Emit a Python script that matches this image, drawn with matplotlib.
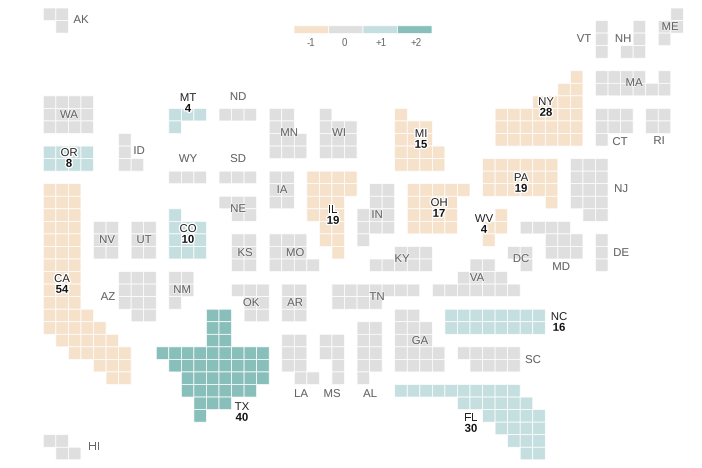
import matplotlib
matplotlib.use('Agg')
import matplotlib.pyplot as plt
import matplotlib.patheffects as pe

plt.rcParams['font.family'] = ['Liberation Sans', 'DejaVu Sans']

W, H = 702, 468
# reference grid: pixel position of tile (0, 0) and tile pitch
X0, Y0, PITCH = 43.3, 8.0, 12.55

change_colors = {-1: '#f6e2cb', 0: '#dfdfdf', 1: '#c5dfe0', 2: '#88bfba'}

legend_values = [-1, 0, 1, 2]
legend_labels = ['-1', '0', '+1', '+2']

# electoral votes, only for the states that are labelled with a number
votes = {'CA': 54, 'TX': 40, 'FL': 30, 'NY': 28, 'IL': 19, 'PA': 19, 'OH': 17, 'NC': 16,
         'MI': 15, 'CO': 10, 'OR': 8, 'MT': 4, 'WV': 4}

# seat change, states not listed are 0
change = {'CA': -1, 'NY': -1, 'IL': -1, 'PA': -1, 'OH': -1, 'MI': -1, 'WV': -1,
          'FL': 1, 'NC': 1, 'CO': 1, 'OR': 1, 'MT': 1, 'TX': 2}

# tiles: state -> (row, first col, last col)
tiles = {
    'AK': [(0, 0, 1), (1, 1, 1)],
    'HI': [(34, 0, 1), (35, 1, 2)],
    'WA': [(7, 0, 3), (8, 0, 3), (9, 0, 3)],
    'OR': [(11, 0, 3), (12, 0, 3)],
    'ID': [(10, 6, 6), (11, 6, 6), (12, 6, 7)],
    'MT': [(8, 10, 12), (9, 10, 10)],
    'ND': [(8, 14, 16)],
    'MN': [(8, 18, 19), (9, 18, 19), (10, 18, 20), (11, 18, 20)],
    'WI': [(8, 22, 22), (9, 22, 24), (10, 22, 24), (11, 22, 24)],
    'MI': [(8, 28, 28), (9, 28, 30), (10, 28, 30), (11, 28, 31), (12, 28, 31)],
    'WY': [(13, 10, 12)],
    'SD': [(13, 14, 16)],
    'NE': [(15, 14, 16), (16, 15, 16)],
    'IA': [(13, 18, 19), (14, 18, 19), (15, 18, 19)],
    'IL': [(13, 21, 24), (14, 21, 24), (15, 21, 23), (16, 21, 23), (17, 22, 23), (18, 22, 23), (19, 23, 23)],
    'IN': [(14, 26, 27), (15, 26, 27), (16, 25, 27), (17, 25, 27), (18, 25, 25)],
    'OH': [(14, 29, 33), (15, 29, 32), (16, 29, 32), (17, 29, 32)],
    'KS': [(18, 15, 16), (19, 15, 16), (20, 15, 16)],
    'MO': [(18, 18, 20), (19, 18, 20), (20, 18, 21)],
    'KY': [(19, 28, 30), (20, 26, 30)],
    'TN': [(22, 23, 29), (23, 23, 26)],
    'VA': [(20, 34, 35), (21, 33, 36), (22, 31, 37)],
    'OK': [(22, 15, 17), (23, 16, 17), (24, 16, 17)],
    'AR': [(22, 19, 20), (23, 19, 20), (24, 19, 20)],
    'CO': [(16, 10, 10), (17, 10, 12), (18, 10, 12), (19, 10, 12)],
    'NV': [(17, 4, 5), (18, 4, 5), (19, 4, 5)],
    'UT': [(17, 7, 8), (18, 7, 8), (19, 7, 8)],
    'CA': [(r, 0, 2) for r in range(14, 24)] + [(24, 0, 3), (25, 0, 4), (26, 1, 5), (27, 2, 6), (28, 4, 6), (29, 5, 6)],
    'AZ': [(21, 6, 8), (22, 6, 8), (23, 6, 8), (24, 7, 8)],
    'NM': [(21, 10, 11), (22, 10, 11), (23, 10, 10)],
    'TX': [(24, 13, 14), (25, 13, 14), (26, 13, 14), (27, 9, 17), (28, 10, 17), (29, 11, 17), (30, 11, 16),
           (31, 12, 14), (32, 12, 12)],
    'LA': [(26, 19, 20), (27, 19, 20), (28, 19, 20), (29, 20, 21)],
    'MS': [(26, 22, 23), (27, 22, 23), (28, 23, 23), (29, 23, 23)],
    'AL': [(25, 25, 26), (26, 25, 26), (27, 25, 26), (28, 25, 26), (29, 25, 25)],
    'GA': [(24, 28, 29), (25, 28, 30), (26, 28, 30), (27, 28, 31), (28, 28, 31)],
    'NC': [(24, 32, 39), (25, 32, 39)],
    'SC': [(27, 33, 37), (28, 34, 37)],
    'FL': [(30, 28, 37), (31, 33, 38), (32, 35, 39), (33, 36, 39), (34, 37, 39), (35, 38, 39)],
    'ME': [(0, 50, 50), (1, 49, 50), (2, 49, 49)],
    'VT': [(1, 44, 44), (2, 44, 44), (3, 44, 44)],
    'NH': [(1, 47, 47), (2, 47, 47), (3, 46, 47)],
    'MA': [(5, 44, 47), (5, 49, 49), (6, 44, 49)],
    'CT': [(8, 44, 46), (9, 44, 46), (10, 44, 44)],
    'RI': [(8, 48, 49), (9, 48, 49)],
    'NY': [(5, 42, 42), (6, 41, 42), (7, 39, 42), (8, 36, 42), (9, 36, 42), (10, 36, 42)],
    'PA': [(12, 35, 40), (13, 35, 40), (14, 35, 40), (15, 40, 40)],
    'NJ': [(12, 42, 44), (13, 42, 44), (14, 42, 44), (15, 42, 44), (16, 43, 44)],
    'WV': [(16, 36, 36), (17, 35, 36), (18, 35, 35)],
    'MD': [(17, 38, 41), (18, 40, 42), (19, 40, 42)],
    'DC': [(19, 37, 38), (20, 38, 38)],
    'DE': [(18, 44, 44), (19, 44, 44), (20, 44, 44)],
}

# label anchor in picture pixels
label_pos = {
    'AK': (81, 20), 'WA': (69, 115), 'OR': (69, 153), 'ID': (139, 151), 'MT': (188, 98), 'ND': (238, 97),
    'MN': (289, 133), 'WI': (339, 133), 'MI': (421, 134), 'VT': (584, 39), 'NH': (623, 39), 'ME': (670, 27),
    'MA': (634, 83), 'NY': (546, 102), 'CT': (620, 142), 'RI': (659, 141), 'WY': (188, 159), 'SD': (238, 159),
    'NE': (238, 209), 'IA': (282, 190), 'IL': (333, 210), 'IN': (377, 215), 'OH': (439, 203), 'KS': (245, 253),
    'MO': (295, 253), 'KY': (402, 259), 'TN': (377, 297), 'OK': (251, 303), 'AR': (295, 303), 'PA': (521, 178),
    'NJ': (621, 189), 'WV': (484, 219), 'DC': (521, 259), 'MD': (561, 267), 'DE': (621, 253), 'VA': (477, 278),
    'NV': (107, 240), 'UT': (144, 240), 'CO': (188, 229), 'CA': (62, 279), 'AZ': (108, 297), 'NM': (182, 290),
    'HI': (94, 447), 'LA': (301, 394), 'MS': (332, 394), 'AL': (370, 394), 'GA': (420, 341), 'TX': (242, 407),
    'NC': (559, 317), 'SC': (533, 360), 'FL': (471, 418),
}


def to_grid(x, y):
    # picture pixels to grid units
    return (x - X0) / PITCH, (y - Y0) / PITCH


fig = plt.figure(figsize=(W / 100, H / 100), dpi=100)
ax = fig.add_axes([0, 0, 1, 1])
ax.set_xlim(to_grid(0, 0)[0], to_grid(W, 0)[0])
ax.set_ylim(to_grid(0, H)[1], to_grid(0, 0)[1])
ax.axis('off')

halo_grey = [pe.withStroke(linewidth=1.2, foreground='white', alpha=0.5)]
halo_dark = [pe.withStroke(linewidth=2.0, foreground='white')]

for state, spans in tiles.items():
    color = change_colors[change.get(state, 0)]
    for row, first, last in spans:
        cols = list(range(first, last + 1))
        bars = ax.bar(cols, [1] * len(cols), width=1, bottom=row, align='edge', color=color,
                      edgecolor='white', linewidth=0.5)
        for b in bars:
            b.set_snap(False)

for state, (x, y) in label_pos.items():
    gx, gy = to_grid(x, y)
    if state in votes:
        ax.text(gx, gy, state, ha='center', va='center', fontsize=8.2, color='#222222', path_effects=halo_dark)
        gx2, gy2 = to_grid(x, y + 10.8)
        ax.text(gx2, gy2, str(votes[state]), ha='center', va='center', fontsize=8.2, fontweight='bold',
                color='#111111', path_effects=halo_dark)
    else:
        ax.text(gx, gy, state, ha='center', va='center', fontsize=8.2, color='#666666', path_effects=halo_grey)

# legend strip above the map
leg_left, leg_w = to_grid(294, 0)[0], 34.5 / PITCH
leg_top, leg_bottom = to_grid(0, 25.8)[1], to_grid(0, 33.5)[1]
for i, (val, lab) in enumerate(zip(legend_values, legend_labels)):
    bars = ax.bar(leg_left + i * leg_w, leg_bottom - leg_top, width=leg_w, bottom=leg_top, align='edge',
                  color=change_colors[val], edgecolor='white', linewidth=0.5)
    bars[0].set_snap(False)
    gx, gy = to_grid([311, 344.5, 381.5, 416.5][i], 42.5)
    ax.text(gx, gy, lab, ha='center', va='center', fontsize=7, color='#666666')

fig.savefig('out.png', dpi=100)
